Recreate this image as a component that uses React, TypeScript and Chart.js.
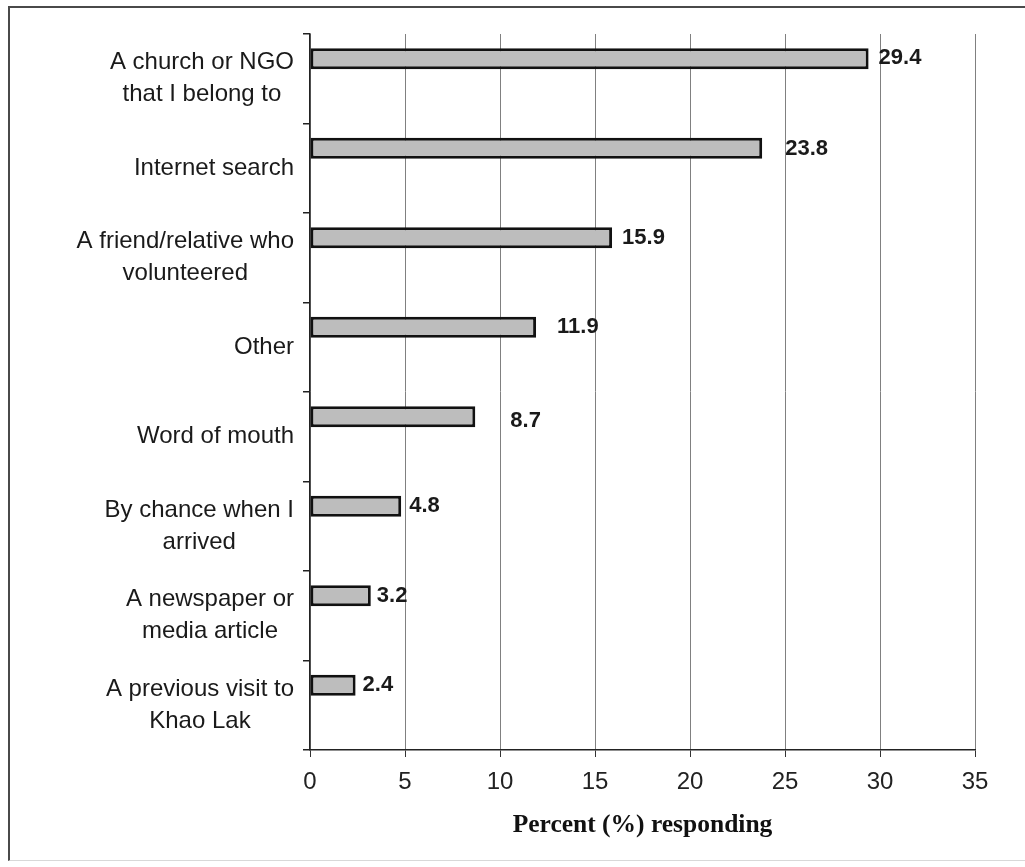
import React, { useEffect, useRef } from "react";
import { Chart, registerables } from "chart.js";

Chart.register(...registerables);

// ---- data ----
const categories: string[][] = [
  ["A church or NGO", "that I belong to"],
  ["Internet search"],
  ["A friend/relative who", "volunteered"],
  ["Other"],
  ["Word of mouth"],
  ["By chance when I", "arrived"],
  ["A newspaper or", "media article"],
  ["A previous visit to", "Khao Lak"],
];
const percentResponding = [29.4, 23.8, 15.9, 11.9, 8.7, 4.8, 3.2, 2.4];
// empty companion series: only reserves the lower half of each band
const spacerSeries = [null, null, null, null, null, null, null, null];
const xAxisMin = 0;
const xAxisMax = 35;
const xAxisStep = 5;
const xAxisTitle = "Percent (%) responding";

// ---- styles (label nudges in px, separate from data) ----
const LABEL_DX = [10, 23, 10, 21, 35, 8, 6, 7];
const LABEL_DY = [-1, 1, 0, 0, 4, 0, 0, 0];
const SANS = '"Liberation Sans", Arial, sans-serif';
const SERIF = '"Liberation Serif", "Times New Roman", serif';
const TEXT = "#1a1a1a";
const CANVAS_W = 1015;
const CANVAS_H = 852;

const labelPlugin = {
  id: "customLabels",
  afterDraw(chart: any) {
    const ctx = chart.ctx as CanvasRenderingContext2D;
    const yScale = chart.scales.y;
    const area = chart.chartArea;
    ctx.save();
    // category labels: lines centred on each other, block right-aligned
    ctx.font = `24px ${SANS}`;
    ctx.fillStyle = TEXT;
    ctx.textAlign = "center";
    ctx.textBaseline = "middle";
    const lineH = 32;
    categories.forEach((lines, i) => {
      const cy = yScale.getPixelForValue(i);
      const w = Math.max(...lines.map((l) => ctx.measureText(l).width));
      const cx = area.left - 16 - w / 2;
      lines.forEach((l, j) => {
        ctx.fillText(l, cx, cy + (j - (lines.length - 1) / 2) * lineH);
      });
    });
    // value labels
    ctx.font = `bold 22px ${SANS}`;
    ctx.textAlign = "left";
    const meta = chart.getDatasetMeta(0);
    meta.data.forEach((bar: any, i: number) => {
      ctx.fillText(
        percentResponding[i].toFixed(1),
        bar.x + LABEL_DX[i],
        bar.y + LABEL_DY[i]
      );
    });
    ctx.restore();
  },
};

export default function App() {
  const canvasRef = useRef<HTMLCanvasElement | null>(null);

  useEffect(() => {
    document.documentElement.style.overflow = "hidden";
    document.body.style.overflow = "hidden";
    const canvas = canvasRef.current;
    if (!canvas) return;
    const chart = new Chart(canvas, {
      type: "bar",
      data: {
        labels: categories,
        datasets: [
          {
            data: percentResponding,
            backgroundColor: "#bdbdbd",
            borderColor: "#111111",
            borderWidth: 3,
            borderSkipped: false,
            categoryPercentage: 0.894,
            barPercentage: 0.53,
          },
          {
            data: spacerSeries as any,
            backgroundColor: "rgba(0,0,0,0)",
            borderWidth: 0,
            categoryPercentage: 0.894,
            barPercentage: 0.53,
          },
        ],
      },
      options: {
        indexAxis: "y",
        responsive: false,
        animation: false,
        devicePixelRatio: 1,
        layout: { padding: { top: 26, right: 50, bottom: 0, left: 0 } },
        plugins: {
          legend: { display: false },
          tooltip: { enabled: false },
        },
        scales: {
          x: {
            type: "linear",
            min: xAxisMin,
            max: xAxisMax,
            ticks: {
              stepSize: xAxisStep,
              color: "#222",
              font: { family: SANS, size: 24 },
              padding: 11,
            },
            grid: {
              color: "#808080",
              lineWidth: 1,
              tickColor: "#333",
              tickLength: 7,
              drawTicks: true,
            },
            border: { color: "#222", width: 1.5 },
            title: {
              display: true,
              text: xAxisTitle,
              color: "#111",
              font: { family: SERIF, size: 25.5, weight: "bold" },
              padding: { top: 0, bottom: 19 },
            },
            afterFit: (s: any) => {
              s.height = 110;
            },
          },
          y: {
            type: "category",
            offset: true,
            grid: {
              offset: true,
              drawOnChartArea: false,
              drawTicks: true,
              tickLength: 7,
              color: "#222",
              lineWidth: 1.5,
            },
            border: { color: "#222", width: 1.5 },
            ticks: { display: false },
            afterFit: (s: any) => {
              s.width = 300;
            },
          },
        },
      },
      plugins: [labelPlugin],
    } as any);
    return () => chart.destroy();
  }, []);

  return (
    <div
      style={{
        position: "absolute",
        top: 6,
        left: 8,
        width: 1017,
        height: 855,
        boxSizing: "border-box",
        borderTop: "2px solid #4a4a4a",
        borderLeft: "2px solid #4a4a4a",
        borderBottom: "1px solid #d8d8d8",
        background: "#ffffff",
      }}
    >
      <canvas
        ref={canvasRef}
        width={CANVAS_W}
        height={CANVAS_H}
        style={{ display: "block", width: CANVAS_W, height: CANVAS_H }}
      />
    </div>
  );
}
